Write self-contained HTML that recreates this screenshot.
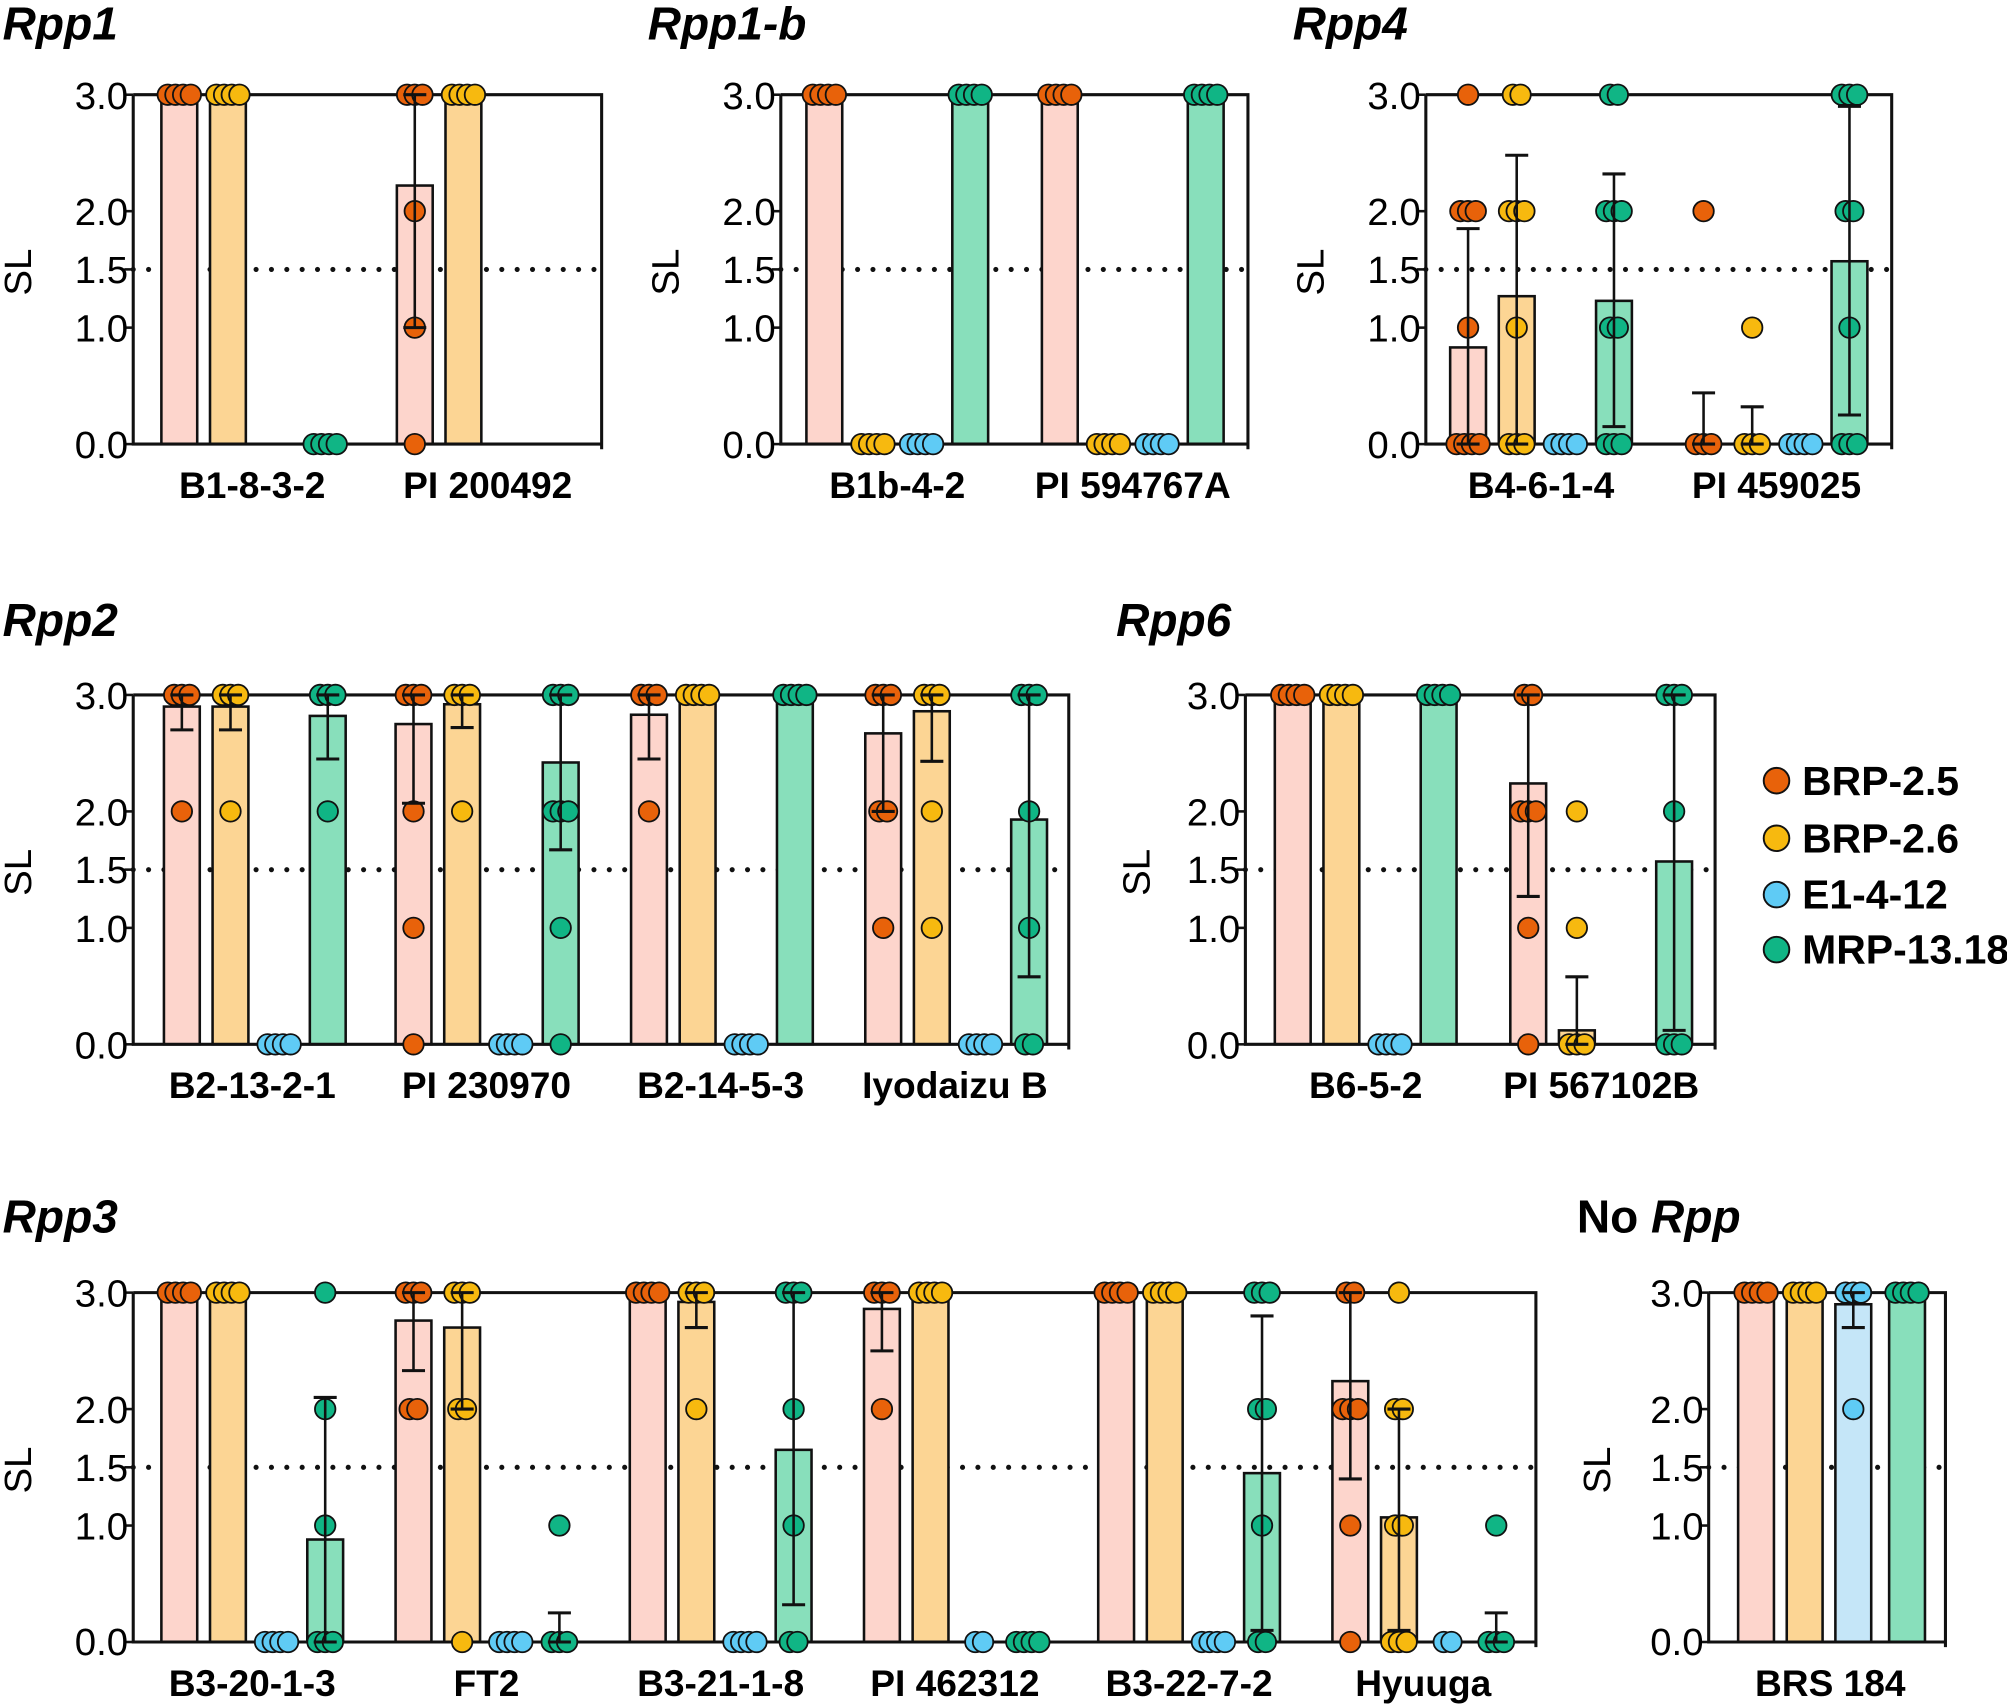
<!DOCTYPE html>
<html><head><meta charset="utf-8"><style>
html,body{margin:0;padding:0;background:#fff}
svg{display:block}
text{font-family:"Liberation Sans",Arial,sans-serif}
.t{font-weight:bold;font-style:italic;font-size:36px}
.tn{font-weight:bold;font-size:36px}
.tk{font-size:30px;text-anchor:end}
.sl{font-size:30px}
.xl{font-weight:bold;font-size:29px;text-anchor:middle}
.lg{font-weight:bold;font-size:32px}
</style></head><body>
<svg id="s" width="2007" height="1706" viewBox="0 0 1568 1333" xmlns="http://www.w3.org/2000/svg">
<g id="shapes"></g>
<text class="t" x="2" y="31">Rpp1</text>
<text class="t" x="506" y="31">Rpp1-b</text>
<text class="t" x="1010" y="31">Rpp4</text>
<text class="t" x="2" y="497">Rpp2</text>
<text class="t" x="872" y="497">Rpp6</text>
<text class="t" x="2" y="963">Rpp3</text>
<text x="1232" y="963"><tspan class="tn">No </tspan><tspan class="t">Rpp</tspan></text>
<g class="tk">
<text x="100" y="85">3.0</text><text x="100" y="176">2.0</text><text x="100" y="221">1.5</text><text x="100" y="267">1.0</text><text x="100" y="358">0.0</text>
<text x="606" y="85">3.0</text><text x="606" y="176">2.0</text><text x="606" y="221">1.5</text><text x="606" y="267">1.0</text><text x="606" y="358">0.0</text>
<text x="1110" y="85">3.0</text><text x="1110" y="176">2.0</text><text x="1110" y="221">1.5</text><text x="1110" y="267">1.0</text><text x="1110" y="358">0.0</text>
<text x="100" y="554">3.0</text><text x="100" y="645">2.0</text><text x="100" y="690">1.5</text><text x="100" y="736">1.0</text><text x="100" y="827">0.0</text>
<text x="969" y="554">3.0</text><text x="969" y="645">2.0</text><text x="969" y="690">1.5</text><text x="969" y="736">1.0</text><text x="969" y="827">0.0</text>
<text x="100" y="1021">3.0</text><text x="100" y="1112">2.0</text><text x="100" y="1157">1.5</text><text x="100" y="1203">1.0</text><text x="100" y="1293">0.0</text>
<text x="1331" y="1021">3.0</text><text x="1331" y="1112">2.0</text><text x="1331" y="1157">1.5</text><text x="1331" y="1203">1.0</text><text x="1331" y="1293">0.0</text>
</g>
<text class="sl" transform="translate(24,231) rotate(-90)">SL</text>
<text class="sl" transform="translate(530,231) rotate(-90)">SL</text>
<text class="sl" transform="translate(1034,231) rotate(-90)">SL</text>
<text class="sl" transform="translate(24,700) rotate(-90)">SL</text>
<text class="sl" transform="translate(898,700) rotate(-90)">SL</text>
<text class="sl" transform="translate(24,1167) rotate(-90)">SL</text>
<text class="sl" transform="translate(1258,1167) rotate(-90)">SL</text>
<g class="xl">
<text x="197" y="389">B1-8-3-2</text><text x="381" y="389">PI 200492</text>
<text x="701" y="389">B1b-4-2</text><text x="885" y="389">PI 594767A</text>
<text x="1204" y="389">B4-6-1-4</text><text x="1388" y="389">PI 459025</text>
<text x="197" y="858">B2-13-2-1</text><text x="380" y="858">PI 230970</text><text x="563" y="858">B2-14-5-3</text><text x="746" y="858">Iyodaizu B</text>
<text x="1067" y="858">B6-5-2</text><text x="1251" y="858">PI 567102B</text>
<text x="197" y="1325">B3-20-1-3</text><text x="380" y="1325">FT2</text><text x="563" y="1325">B3-21-1-8</text><text x="746" y="1325">PI 462312</text><text x="929" y="1325">B3-22-7-2</text><text x="1112" y="1325">Hyuuga</text>
<text x="1430" y="1325">BRS 184</text>
</g>
<g stroke="#111" stroke-width="1.5">
<circle cx="1388" cy="610" r="10" fill="#e8620a"/>
<circle cx="1388" cy="655" r="10" fill="#f7b90f"/>
<circle cx="1388" cy="699" r="10" fill="#5fcbf5"/>
<circle cx="1388" cy="742" r="10" fill="#10b585"/>
</g>
<g class="lg">
<text x="1408" y="621">BRP-2.5</text><text x="1408" y="666">BRP-2.6</text><text x="1408" y="710">E1-4-12</text><text x="1408" y="753">MRP-13.18</text>
</g>
</svg>
<script>
var FILL=["#fdd5cc","#fcd594","#c5e6f8","#88dfbb"],DOT=["#e8620a","#f7b90f","#5fcbf5","#10b585"];
var g=document.getElementById("shapes"),NS="http://www.w3.org/2000/svg";
function el(t,a){var e=document.createElementNS(NS,t);for(var k in a)e.setAttribute(k,a[k]);g.appendChild(e);return e;}
function panel(x0,x1,yt,bars){
 var y0=yt+273,u=91;function Y(v){return y0-v*u;}
 el("line",{x1:x0,y1:Y(1.5),x2:x1,y2:Y(1.5),stroke:"#111","stroke-width":4,"stroke-dasharray":"0 12","stroke-linecap":"round"});
 bars.forEach(function(b){var cx=b[0],c=b[1],m=b[2];
  if(m>0){el("rect",{x:cx-14,y:Y(m),width:28,height:Y(0)-Y(m),fill:FILL[c],stroke:"#111","stroke-width":2});}});
 el("path",{d:"M"+x0+" "+yt+"H"+x1+"V"+(y0+4)+"M"+x0+" "+(yt)+"V"+y0+"H"+x1,fill:"none",stroke:"#111","stroke-width":2.4});
 [0,1,1.5,2,3].forEach(function(v){el("line",{x1:x0-7,y1:Y(v),x2:x0,y2:Y(v),stroke:"#111","stroke-width":2});});
 bars.forEach(function(b){var cx=b[0],c=b[1],d=b[5];var cnt={};d.forEach(function(v){cnt[v]=(cnt[v]||0)+1;});
  for(var v in cnt){var n=cnt[v],sp=n>1?6:0;for(var i=0;i<n;i++){var dx=(i-(n-1)/2)*sp;
   el("circle",{cx:cx+dx,cy:Y(+v),r:8,fill:DOT[c],stroke:"#111","stroke-width":1.4});}}
  if(b[3]!=null){var lo=b[3],hi=b[4];el("line",{x1:cx,y1:Y(lo),x2:cx,y2:Y(hi),stroke:"#111","stroke-width":2});
   el("line",{x1:cx-9,y1:Y(lo),x2:cx+9,y2:Y(lo),stroke:"#111","stroke-width":2.4});
   el("line",{x1:cx-9,y1:Y(hi),x2:cx+9,y2:Y(hi),stroke:"#111","stroke-width":2.4});}
 });
}
var T=[3,3,3,3],Z=[0,0,0,0];
function full(cx,c){return [cx,c,3,null,null,T];}
function zero(cx,c){return [cx,c,0,null,null,Z];}
panel(104,470,74,[full(140,0),full(178,1),zero(254,3),[324,0,2.22,1,3,[3,3,3,2,1,0]],full(362,1)]);
panel(610,975,74,[full(644,0),zero(682,1),zero(720,2),full(758,3),full(828,0),zero(866,1),zero(904,2),full(942,3)]);
panel(1114,1478,74,[[1147,0,0.83,0,1.85,[3,2,2,2,1,0,0,0,0]],[1185,1,1.27,0,2.48,[3,3,2,2,2,1,0,0,0]],zero(1223,2),[1261,3,1.23,0.15,2.32,[3,3,2,2,2,1,1,0,0,0]],
 [1331,0,0,0,0.44,[2,0,0,0]],[1369,1,0,0,0.32,[1,0,0,0]],zero(1407,2),[1445,3,1.57,0.25,2.9,[3,3,3,2,2,1,0,0,0]]]);
panel(104,835,543,[[142,0,2.9,2.7,3,[3,3,3,2]],[180,1,2.9,2.7,3,[3,3,3,2]],zero(218,2),[256,3,2.82,2.45,3,[3,3,3,2]],
 [323,0,2.75,2.07,3,[3,3,3,2,1,0]],[361,1,2.92,2.72,3,[3,3,3,2]],zero(399,2),[438,3,2.42,1.67,3,[3,3,3,2,2,2,1,0]],
 [507,0,2.83,2.45,3,[3,3,3,2]],full(545,1),zero(583,2),full(621,3),
 [690,0,2.67,2.0,3,[3,3,3,2,2,1]],[728,1,2.86,2.43,3,[3,3,3,2,1]],zero(766,2),[804,3,1.93,0.58,3,[3,3,3,2,1,0,0]]]);
panel(973,1340,543,[full(1010,0),full(1048,1),zero(1086,2),full(1124,3),
 [1194,0,2.24,1.27,3,[3,3,2,2,2,1,0]],[1232,1,0.12,0,0.58,[2,1,0,0,0]],[1308,3,1.57,0.12,3,[3,3,3,2,0,0,0]]]);
panel(104,1200,1010,[full(140,0),full(178,1),zero(216,2),[254,3,0.88,0,2.1,[3,2,1,0,0,0]],
 [323,0,2.76,2.33,3,[3,3,3,2,2]],[361,1,2.7,2.0,3,[3,3,3,2,2,0]],zero(399,2),[437,3,0,0,0.25,[1,0,0,0]],
 full(506,0),[544,1,2.92,2.7,3,[3,3,3,2]],zero(582,2),[620,3,1.65,0.32,3,[3,3,3,2,1,0,0]],
 [689,0,2.86,2.5,3,[3,3,3,2]],full(727,1),[765,2,0,null,null,[0,0]],zero(803,3),
 full(872,0),full(910,1),zero(948,2),[986,3,1.45,0.1,2.8,[3,3,3,2,2,1,0,0]],
 [1055,0,2.24,1.4,3,[3,3,2,2,2,1,0]],[1093,1,1.07,0.1,2.0,[3,2,2,1,1,0,0,0]],[1131,2,0,null,null,[0,0]],[1169,3,0,0,0.25,[1,0,0,0]]]);
panel(1335,1520,1010,[full(1372,0),full(1410,1),[1448,2,2.9,2.7,3,[3,3,3,2]],full(1490,3)]);
</script>
</body></html>
